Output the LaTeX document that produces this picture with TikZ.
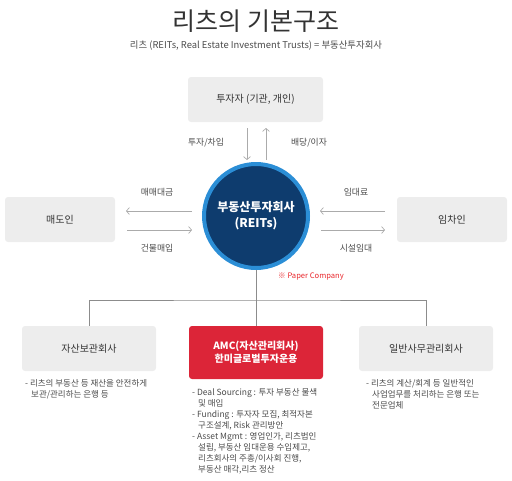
\documentclass[tikz,border=0pt]{standalone}
\usepackage{fontspec}
\setmainfont{Noto Sans CJK KR}
\usetikzlibrary{positioning, arrows.meta}

\definecolor{boxgray}{HTML}{EDEDED}
\definecolor{textgray}{HTML}{333333}
\definecolor{descgray}{HTML}{4A4A4A}
\definecolor{arrowgray}{HTML}{ABABAB}
\definecolor{linegray}{HTML}{8C8C8C}
\definecolor{reitnavy}{HTML}{0E3C6E}
\definecolor{reitblue}{HTML}{2B8ED6}
\definecolor{amcred}{HTML}{DC2538}
\definecolor{notered}{HTML}{E8262B}

\tikzstyle{party} = [
    rectangle,
    rounded corners=3pt,
    fill=boxgray,
    text=textgray,
    font=\fontsize{10}{12}\selectfont,
    minimum width=110pt,
    minimum height=45pt
]
\tikzstyle{agent} = [
    party,
    minimum width=134pt
]
\tikzstyle{reitcircle} = [
    circle,
    fill=reitnavy,
    draw=reitblue,
    line width=4pt,
    minimum size=104pt,
    text=white,
    align=center,
    font=\bfseries\fontsize{12}{16}\selectfont
]
\tikzstyle{flowlabel} = [
    text=descgray,
    font=\fontsize{8.8}{10}\selectfont
]
\tikzstyle{desc} = [
    anchor=north west,
    align=left,
    inner sep=0pt,
    text=descgray,
    font=\fontsize{8.5}{11.1}\selectfont
]
\tikzstyle{flow} = [arrowgray, line width=0.7pt, -{Straight Barb[length=3pt,width=7pt]}]
\tikzstyle{branch} = [linegray, line width=0.6pt]

\newcommand{\hang}{\hspace*{6pt}}

\begin{document}
\begin{tikzpicture}[x=1pt, y=-1pt]

\useasboundingbox (0,0) rectangle (512,480);

\node (title) [text=textgray, font=\fontsize{25}{28}\selectfont] at (256,21)
{리츠의 기본구조};

\node (subtitle) [text=descgray, font=\fontsize{9.4}{11}\selectfont] at (256,46)
{리츠 (REITs, Real Estate Investment Trusts) = 부동산투자회사};

\node (investor) [party, minimum width=135pt] at (255.5,99.5)
{투자자 (기관, 개인)};

\node (reits) [reitcircle] at (256,216)
{부동산투자회사\\(REITs)};

\node (seller) [party] at (60,219.5) {매도인};

\node (tenant) [party] at (452,219.5) {임차인};

\node (paper) [text=notered, font=\fontsize{7.6}{9}\selectfont] at (311,277)
{※ Paper Company};

\node (custody) [agent] at (89,348.5) {자산보관회사};

\node (amc) [agent, minimum height=53pt, fill=amcred, text=white,
    align=center, font=\bfseries\fontsize{10}{13.5}\selectfont] at (256,352.5)
{AMC(자산관리회사)\\한미글로벌투자운용};

\node (admin) [agent] at (426,348.5) {일반사무관리회사};

\node (custodytext) [desc] at (25,379)
{- 리츠의 부동산 등 재산을 안전하게\\
\hang 보관/관리하는 은행 등};

\node (amctext) [desc] at (192,388)
{- Deal Sourcing : 투자 부동산 물색\\
\hang 및 매입\\
- Funding : 투자자 모집, 최적자본\\
\hang 구조설계, Risk 관리방안\\
- Asset Mgmt : 영업인가, 리츠법인\\
\hang 설립, 부동산 임대운용 수입제고,\\
\hang 리츠회사의 주총/이사회 진행,\\
\hang 부동산 매각,리츠 정산};

\node (admintext) [desc] at (366,379)
{- 리츠의 계산/회계 등 일반적인\\
\hang 사업업무를 처리하는 은행 또는\\
\hang 전문업체};

\coordinate (invout) at (247,128);
\coordinate (invin) at (247,160);
\coordinate (divout) at (266,160);
\coordinate (divin) at (266,128);
\coordinate (payout) at (192,211);
\coordinate (payin) at (126,211);
\coordinate (buyout) at (127,230);
\coordinate (buyin) at (192,230);
\coordinate (rentout) at (385,211);
\coordinate (rentin) at (320,211);
\coordinate (leaseout) at (321,230);
\coordinate (leasein) at (385,230);
\coordinate (hub) at (256,300);

\node (invlabel) [flowlabel] at (206,143) {투자/차입};
\node (divlabel) [flowlabel] at (309,143) {배당/이자};
\node (paylabel) [flowlabel] at (157,192) {매매대금};
\node (buylabel) [flowlabel] at (157,248) {건물매입};
\node (rentlabel) [flowlabel] at (356,192) {임대료};
\node (leaselabel) [flowlabel] at (356,248) {시설임대};

\draw [flow] (invout) -- (invin);
\draw [flow] (divout) -- (divin);
\draw [flow] (payout) -- (payin);
\draw [flow] (buyout) -- (buyin);
\draw [flow] (rentout) -- (rentin);
\draw [flow] (leaseout) -- (leasein);

\draw [branch] (reits.south) -- (amc.north);
\draw [branch] (custody.north) |- (hub) -| (admin.north);

\end{tikzpicture}
\end{document}
